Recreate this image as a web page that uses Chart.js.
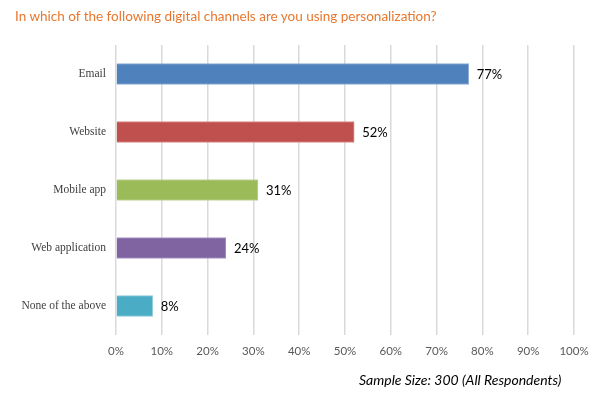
<!DOCTYPE html>
<html>
<head>
<meta charset="utf-8">
<script src="https://cdn.jsdelivr.net/npm/chart.js@4"></script>
<style>
  html, body { margin: 0; padding: 0; background: #fff; }
  #wrap { position: relative; width: 602px; height: 399px; }
  #titulo {
    position: absolute; left: 15px; top: 8px;
    font: 13.5px Lato, sans-serif; color: #e8772e; white-space: nowrap;
  }
  #amostra {
    position: absolute; left: 359px; top: 371px;
    font: italic 14px Lato, sans-serif; color: #000; white-space: nowrap;
  }
  canvas { position: absolute; left: 0; top: 0; }
</style>
</head>
<body>
<div id="wrap">
  <canvas id="grafico" width="602" height="399"></canvas>
  <div id="titulo">In which of the following digital channels are you using personalization?</div>
  <div id="amostra">Sample Size: 300 (All Respondents)</div>
</div>
<script>
const categorias = ["Email", "Website", "Mobile app", "Web application", "None of the above"];
const valores = [77, 52, 31, 24, 8];
const cores = ["#4f81bd", "#c0504d", "#9bbb59", "#8064a2", "#4bacc6"];
const bordas = ["#8eaed6", "#d98c8a", "#c0d59a", "#ab98c4", "#8ccbdc"];
const ticksX = [0, 10, 20, 30, 40, 50, 60, 70, 80, 90, 100];

// rótulos de valor na ponta das barras
const rotulos = {
  id: "rotulos",
  afterDatasetsDraw(chart) {
    const ctx = chart.ctx;
    const meta = chart.getDatasetMeta(0);
    ctx.save();
    ctx.font = "13px Lato, sans-serif";
    ctx.fillStyle = "#000";
    ctx.textBaseline = "middle";
    ctx.textAlign = "left";
    meta.data.forEach((bar, i) => {
      ctx.fillText(valores[i] + "%", bar.x + 8, bar.y + 1);
    });
    ctx.restore();
  }
};

new Chart(document.getElementById("grafico"), {
  type: "bar",
  data: {
    labels: categorias,
    datasets: [{
      data: valores,
      backgroundColor: cores,
      borderColor: bordas,
      borderWidth: 1,
      barThickness: 21
    }]
  },
  options: {
    indexAxis: "y",
    responsive: false,
    animation: false,
    layout: { padding: { top: 45, right: 28, left: 0, bottom: 0 } },
    plugins: {
      legend: { display: false },
      tooltip: { enabled: false }
    },
    scales: {
      x: {
        min: 0,
        max: 100,
        afterBuildTicks: s => { s.ticks = ticksX.map(v => ({ value: v })); },
        afterFit: s => { s.height = 64; },
        grid: { color: "#d9d9d9", lineWidth: 1.5, drawTicks: false },
        border: { display: false },
        ticks: {
          padding: 9,
          color: "#595959",
          font: { family: "Lato", size: 11.5 },
          callback: v => v + "%"
        }
      },
      y: {
        afterFit: s => { s.width = 116; },
        grid: { display: false, drawTicks: false },
        border: { display: false },
        ticks: {
          padding: 10,
          color: "#404040",
          font: { family: "Liberation Serif", size: 11.5 }
        }
      }
    }
  },
  plugins: [rotulos]
});
</script>
</body>
</html>
